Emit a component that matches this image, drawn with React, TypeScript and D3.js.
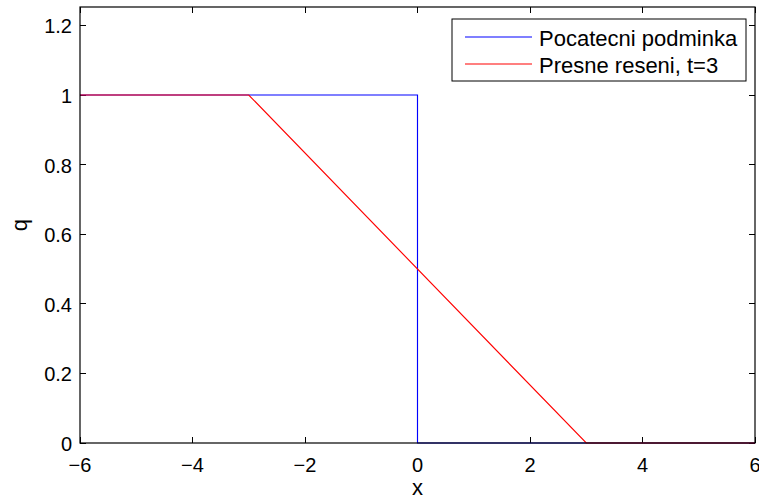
import React, { useEffect, useRef } from "react";
import * as d3 from "d3";

// initial condition and exact solution at t=3
const initX = [-6, 0, 0, 6];
const initQ = [1, 1, 0, 0];
const exactX = [-6, -3, 3, 6];
const exactQ = [1, 1, 0, 0];

const xTicks = [-6, -4, -2, 0, 2, 4, 6];
const yTicks = [0, 0.2, 0.4, 0.6, 0.8, 1, 1.2];
const legendLabels = ["Pocatecni podminka", "Presne reseni, t=3"];
const colors = ["#0000ff", "#ff0000"];

const W = 759;
const H = 499;
const left = 80, right = 755, top = 7, bottom = 443;
const font = "'Liberation Sans', Arial, sans-serif";

export default function App() {
  const ref = useRef<SVGSVGElement>(null);

  useEffect(() => {
    const svg = d3.select(ref.current);
    svg.selectAll("*").remove();

    const x = d3.scaleLinear().domain([-6, 6]).range([left, right]);
    const y = d3.scaleLinear().domain([0, 1.253]).range([bottom, top]);

    const fmt = (v: number) => (v < 0 ? "\u2212" + Math.abs(v) : String(v));

    // ticks, inward on all four sides
    const g = svg.append("g").attr("stroke", "#000").attr("stroke-width", 1).attr("shape-rendering", "crispEdges");
    xTicks.forEach((t) => {
      g.append("line").attr("x1", x(t)).attr("x2", x(t)).attr("y1", bottom).attr("y2", bottom - 6);
      g.append("line").attr("x1", x(t)).attr("x2", x(t)).attr("y1", top).attr("y2", top + 6);
    });
    yTicks.forEach((t) => {
      g.append("line").attr("x1", left).attr("x2", left + 6).attr("y1", y(t)).attr("y2", y(t));
      g.append("line").attr("x1", right).attr("x2", right - 6).attr("y1", y(t)).attr("y2", y(t));
    });

    const line = d3.line<[number, number]>().x((d) => x(d[0])).y((d) => y(d[1]));
    const series = [
      d3.zip(initX, initQ) as [number, number][],
      d3.zip(exactX, exactQ) as [number, number][],
    ];
    series.forEach((s, i) => {
      svg.append("path").attr("d", line(s)).attr("fill", "none")
        .attr("stroke", colors[i]).attr("stroke-width", 1.15);
    });

    svg.append("rect").attr("x", left).attr("y", top).attr("width", right - left)
      .attr("height", bottom - top).attr("fill", "none").attr("stroke", "#000").attr("stroke-width", 1.2);

    const labels = svg.append("g").attr("font-family", font).attr("font-size", 20).attr("fill", "#000");
    xTicks.forEach((t) => {
      labels.append("text").attr("x", x(t)).attr("y", bottom + 29)
        .attr("text-anchor", "middle").text(fmt(t));
    });
    yTicks.forEach((t) => {
      labels.append("text").attr("x", left - 8).attr("y", y(t) + 8)
        .attr("text-anchor", "end").text(String(t));
    });
    labels.append("text").attr("x", (left + right) / 2).attr("y", 495).attr("font-size", 22)
      .attr("text-anchor", "middle").text("x");
    labels.append("text").attr("transform", `translate(26.5,${(top + bottom) / 2}) rotate(-90)`)
      .attr("font-size", 22).attr("text-anchor", "middle").text("q");

    // legend
    const lg = svg.append("g");
    lg.append("rect").attr("x", 452).attr("y", 19).attr("width", 294).attr("height", 62)
      .attr("fill", "#fff").attr("stroke", "#000").attr("stroke-width", 1);
    legendLabels.forEach((name, i) => {
      const cy = 37 + i * 27;
      lg.append("line").attr("x1", 465).attr("x2", 532).attr("y1", cy).attr("y2", cy)
        .attr("stroke", colors[i]).attr("stroke-width", 1.15);
      lg.append("text").attr("x", 539).attr("y", cy + 9).attr("font-family", font)
        .attr("font-size", 22).text(name);
    });
  }, []);

  return <svg ref={ref} width={W} height={H} style={{ position: "absolute", left: 0, top: 0, background: "#fff" }} />;
}
